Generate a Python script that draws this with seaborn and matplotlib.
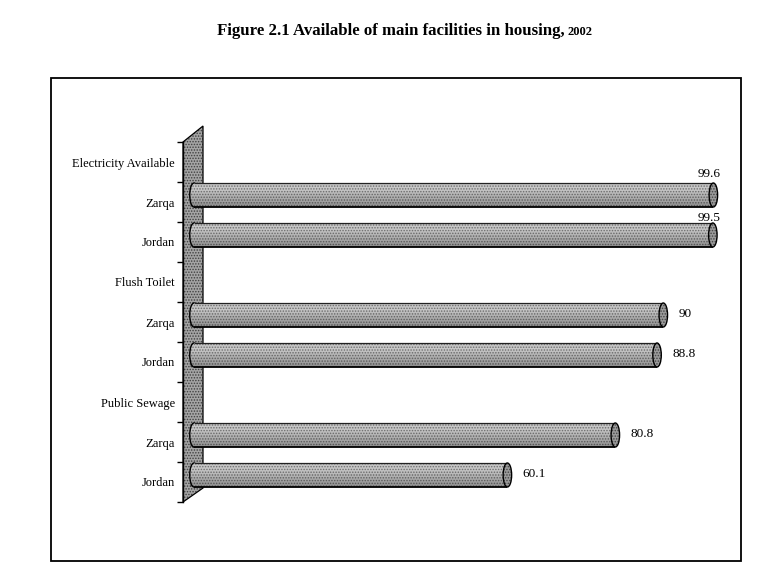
import numpy as np
import pandas as pd
import matplotlib
matplotlib.use("Agg")
import matplotlib.pyplot as plt
import seaborn as sns
from matplotlib.patches import Ellipse, Polygon, Rectangle

# ---------------- data ----------------
groups = ["Electricity Available", "Flush Toilet", "Public Sewage"]
regions = ["Zarqa", "Jordan"]
zarqa = [99.6, 90.0, 80.8]
jordan = [99.5, 88.8, 60.1]
title_main = "Figure 2.1 Available of main facilities in housing,"
title_year = "2002"

# ---------------- style ----------------
sns.set_theme(style="white")
plt.rcParams["font.family"] = ["Liberation Serif", "DejaVu Serif"]
plt.rcParams["hatch.linewidth"] = 0.7
for k in ["text.color", "axes.labelcolor", "xtick.color", "ytick.color"]:
    plt.rcParams[k] = "black"

W, H = 775, 588
fig = plt.figure(figsize=(W / 100, H / 100), dpi=100)


def fx(px):
    return px / W


def fy(py):
    return 1 - py / H


# axes occupies the wall/plot area
ax = fig.add_axes([fx(183), fy(502), fx(741) - fx(183), (502 - 142) / H])

rows = []
labels = []
for k, g in enumerate(groups):
    labels.append(g)
    for j, (r, vals) in enumerate(zip(regions, (zarqa, jordan))):
        labels.append(r)
        rows.append({"pos": 3 * k + 1 + j - 0.175, "value": vals[k], "region": r})
df = pd.DataFrame(rows)

BAR_FACE = "#c6c6c6"
BAR_HATCH = "#6f6f6f"
END_FACE = "#9a9a9a"
END_HATCH = "#444444"

sns.barplot(data=df, x="value", y="pos", orient="h", native_scale=True,
            width=0.6, color=BAR_FACE, edgecolor=BAR_HATCH, hatch="......",
            linewidth=0, errorbar=None, ax=ax, saturation=1)

bars = [p for p in ax.patches]
for p in bars:
    p.set_facecolor(BAR_FACE)
    p.set_edgecolor(BAR_HATCH)
    p.set_zorder(3)

XL = (-2.11, 104.9)
YL = (8.5, -0.5)
ax.set_xlim(*XL)
ax.set_ylim(*YL)

px_per_unit = (741 - 183) / (XL[1] - XL[0])
ew = 8.5 / px_per_unit  # ellipse width (data units)

# cylinder shading gradient (light top -> darker bottom)
grad = np.zeros((24, 1, 4))
grad[:, 0, 3] = np.concatenate([np.linspace(0.0, 0.0, 6), np.linspace(0.0, 0.28, 18)])

for p in bars:
    x0, y0, w, h = p.get_x(), p.get_y(), p.get_width(), p.get_height()
    yc = y0 + h / 2
    # left cap
    ax.add_patch(Ellipse((x0, yc), ew, h, facecolor=BAR_FACE, edgecolor=BAR_HATCH,
                         hatch="......", lw=0, zorder=2.5))
    ax.add_patch(Ellipse((x0, yc), ew, h, fill=False, edgecolor="black",
                         lw=1.0, zorder=2.6))
    # shading
    ax.imshow(grad, extent=(x0 - ew / 2, x0 + w, y0 + h, y0), aspect="auto",
              origin="upper", zorder=3.2, interpolation="bilinear")
    # top / bottom outline
    ax.plot([x0, x0 + w], [y0, y0], color="#222222", lw=0.9, zorder=3.5,
            solid_capstyle="butt")
    ax.plot([x0, x0 + w], [y0 + h, y0 + h], color="black", lw=1.3, zorder=3.5,
            solid_capstyle="butt")
    # right end
    ax.add_patch(Ellipse((x0 + w, yc), ew, h, facecolor=END_FACE, edgecolor=END_HATCH,
                         hatch="......", lw=0, zorder=4))
    ax.add_patch(Ellipse((x0 + w, yc), ew, h, fill=False, edgecolor="black",
                         lw=1.0, zorder=4.1))
    # value label
    end = x0 + w + ew / 2
    val = w
    txt = f"{val:g}"
    if val > 95:
        dy = 21 if y0 < 1.5 else 17
        ax.annotate(txt, xy=(end, yc), xytext=(3, dy), textcoords="offset pixels",
                    ha="right", va="center", fontsize=9.5, color="black", zorder=5,
                    annotation_clip=False)
    else:
        ax.annotate(txt, xy=(end, yc), xytext=(11, 1), textcoords="offset pixels",
                    ha="left", va="center", fontsize=9.5, color="black", zorder=5,
                    annotation_clip=False)

ax.set_xlim(*XL)
ax.set_ylim(*YL)

# side wall drawn in figure pixel space
wall_pts = [(183, 142), (203, 126), (203, 488), (183, 502)]
wall_xy = [(fx(a), fy(b)) for a, b in wall_pts]
ax.add_patch(Polygon(wall_xy, closed=True, transform=fig.transFigure,
                     facecolor="#a4a4a4", edgecolor="#404040", hatch="......",
                     lw=0, clip_on=False, zorder=1))
ax.add_patch(Polygon(wall_xy, closed=True, transform=fig.transFigure,
                     fill=False, edgecolor="black", lw=0.9, clip_on=False, zorder=1.1))

# axis styling
for s in ["top", "right", "bottom"]:
    ax.spines[s].set_visible(False)
ax.spines["left"].set_color("black")
ax.spines["left"].set_linewidth(1.0)
ax.spines["left"].set_zorder(1.2)
ax.set_xticks([])
ax.set_xlabel("")
ax.set_ylabel("")
ax.set_yticks(range(len(labels)))
ax.set_yticklabels(labels, fontsize=9)
ax.set_yticks(np.arange(-0.5, len(labels), 1.0), minor=True)
ax.tick_params(axis="y", which="major", length=0, pad=6, colors="black")
ax.tick_params(axis="y", which="minor", length=4, width=1.0, color="black",
               direction="out", left=True)
ax.patch.set_alpha(0)
ax.grid(False)

# outer frame
fig.add_artist(Rectangle((fx(51), fy(561)), fx(741) - fx(51), (561 - 78) / H,
                         transform=fig.transFigure, fill=False,
                         edgecolor="black", lw=1.3))

# title
t1 = fig.text(fx(217), fy(31), title_main, ha="left", va="center",
              fontsize=12.1, fontweight="bold", color="black")
fig.canvas.draw()
bb = t1.get_window_extent()
fig.text(bb.x1 / W + fx(3), fy(32), title_year, ha="left", va="center",
         fontsize=9, fontweight="bold", color="black")

fig.savefig("out.png", dpi=100)
